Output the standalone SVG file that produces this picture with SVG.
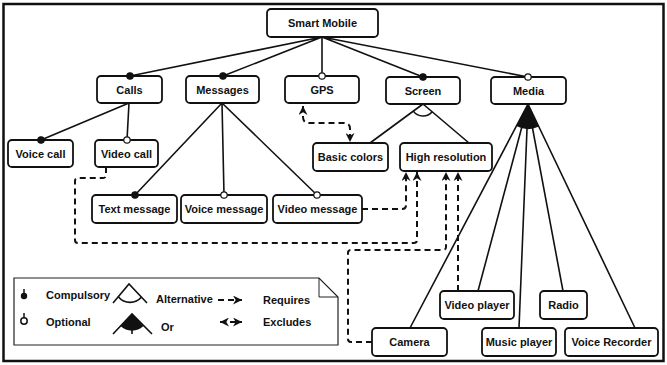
<svg xmlns="http://www.w3.org/2000/svg" width="667" height="365" viewBox="0 0 667 365">
<defs>
<style>
.box{fill:#fff;stroke:#111;stroke-width:1.8}
.t{font-family:"Liberation Sans",Arial,Helvetica,sans-serif;font-weight:bold;font-size:11px;fill:#111}
.ln{stroke:#111;stroke-width:1.6;fill:none}
.ds{stroke:#111;stroke-width:2;fill:none;stroke-dasharray:6,4}
.dot{fill:#111;stroke:#111;stroke-width:1.2}
.odot{fill:#fff;stroke:#111;stroke-width:1.2}
</style>
<marker id="arr" viewBox="0 0 10 10" refX="10" refY="5" markerWidth="9" markerHeight="9" markerUnits="userSpaceOnUse" orient="auto-start-reverse">
<path d="M0,0 L10,5 L0,10 L3,5 Z" fill="#111"/>
</marker>
</defs>
<rect x="3.5" y="4" width="660" height="357" fill="#fff" stroke="#111" stroke-width="2.5"/>

<g id="smart-mobile"><rect class="box" x="267" y="9" width="111" height="28" rx="4"/><text class="t" x="322.5" y="27" text-anchor="middle">Smart Mobile</text></g>
<g id="calls"><rect class="box" x="97" y="76" width="65" height="27" rx="4"/><text class="t" x="129.5" y="93.5" text-anchor="middle">Calls</text></g>
<g id="messages"><rect class="box" x="186" y="76" width="73" height="27" rx="4"/><text class="t" x="222.5" y="93.5" text-anchor="middle">Messages</text></g>
<g id="gps"><rect class="box" x="285" y="76" width="74" height="27" rx="4"/><text class="t" x="322" y="93.5" text-anchor="middle">GPS</text></g>
<g id="screen"><rect class="box" x="386" y="77" width="74" height="27" rx="4"/><text class="t" x="423" y="94.5" text-anchor="middle">Screen</text></g>
<g id="media"><rect class="box" x="491" y="77" width="75" height="27" rx="4"/><text class="t" x="528.5" y="94.5" text-anchor="middle">Media</text></g>
<g id="voice-call"><rect class="box" x="8" y="140" width="65" height="27" rx="4"/><text class="t" x="40.5" y="157.5" text-anchor="middle">Voice call</text></g>
<g id="video-call"><rect class="box" x="95" y="140" width="63" height="27" rx="4"/><text class="t" x="126.5" y="157.5" text-anchor="middle">Video call</text></g>
<g id="basic-colors"><rect class="box" x="313" y="143" width="75" height="28" rx="4"/><text class="t" x="350.5" y="161" text-anchor="middle">Basic colors</text></g>
<g id="high-resolution"><rect class="box" x="400" y="143" width="92" height="28" rx="4"/><text class="t" x="446" y="161" text-anchor="middle">High resolution</text></g>
<g id="text-message"><rect class="box" x="92" y="195" width="85" height="28" rx="4"/><text class="t" x="134.5" y="213" text-anchor="middle">Text message</text></g>
<g id="voice-message"><rect class="box" x="181" y="195" width="86" height="28" rx="4"/><text class="t" x="224" y="213" text-anchor="middle">Voice message</text></g>
<g id="video-message"><rect class="box" x="273" y="195" width="89" height="28" rx="4"/><text class="t" x="317.5" y="213" text-anchor="middle">Video message</text></g>
<g id="video-player"><rect class="box" x="440" y="291" width="74" height="28" rx="4"/><text class="t" x="477" y="309" text-anchor="middle">Video player</text></g>
<g id="radio"><rect class="box" x="540" y="291" width="47" height="28" rx="4"/><text class="t" x="563.5" y="309" text-anchor="middle">Radio</text></g>
<g id="camera"><rect class="box" x="372" y="328" width="75" height="28" rx="4"/><text class="t" x="409.5" y="346" text-anchor="middle">Camera</text></g>
<g id="music-player"><rect class="box" x="482" y="328" width="74" height="28" rx="4"/><text class="t" x="519" y="346" text-anchor="middle">Music player</text></g>
<g id="voice-recorder"><rect class="box" x="565" y="328" width="93" height="28" rx="4"/><text class="t" x="611.5" y="346" text-anchor="middle">Voice Recorder</text></g>

<g id="connectors">
<path class="ln" d="M322,37 L130,76 M322,37 L223,76 M322,37 L322,76 M322,37 L423,77 M322,37 L528,77"/>
<path class="ln" d="M129,103 L41,140 M129,103 L127,140"/>
<path class="ln" d="M222,103 L135,195 M222,103 L224,195 M222,103 L317,195"/>
<path class="ln" d="M423,104 L370,143 M423,104 L469,143"/>
<path class="ln" d="M413.3,111.1 A12,12 0 0 0 432.2,111.8"/>
<path d="M528,104 L516.3,126.1 A25,25 0 0 0 538.8,126.6 Z" fill="#111"/>
<path class="ln" d="M528,104 L410,328 M528,104 L478,291 M528,104 L519,328 M528,104 L563,291 M528,104 L635,328"/>
<circle class="dot" cx="130" cy="76" r="3.2"/>
<circle class="dot" cx="223" cy="76" r="3.2"/>
<circle class="odot" cx="322" cy="76" r="3.2"/>
<circle class="dot" cx="423" cy="77" r="3.2"/>
<circle class="odot" cx="528" cy="77" r="3.2"/>
<circle class="dot" cx="41" cy="140" r="3.2"/>
<circle class="odot" cx="127" cy="140" r="3.2"/>
<circle class="dot" cx="135" cy="195" r="3.2"/>
<circle class="odot" cx="224" cy="195" r="3.2"/>
<circle class="odot" cx="317" cy="195" r="3.2"/>
<path class="ds" d="M303,106 V117 Q303,123 309,123 H344 Q350,123 350,129 V142" marker-start="url(#arr)" marker-end="url(#arr)"/>
<path class="ds" d="M362,209 H402 Q406,209 406,205 V172" marker-end="url(#arr)"/>
<path class="ds" d="M106,167 V175 Q106,178 103,178 H78 Q75,178 75,181 V240 Q75,243 78,243 H414 Q417,243 417,240 V172" marker-end="url(#arr)"/>
<path class="ds" d="M372,342 H351 Q348,342 348,339 V253 Q348,250 351,250 H443 Q446,250 446,247 V172" marker-end="url(#arr)"/>
<path class="ds" d="M458,291 V172" marker-end="url(#arr)"/>
</g>

<g id="legend">
<path d="M14,278 H319 L338,297 V345 H14 Z" fill="#fff" stroke="#222" stroke-width="1.2"/>
<path d="M319,278 V297 H338" fill="none" stroke="#222" stroke-width="1"/>
<line x1="24" y1="289" x2="24" y2="293" stroke="#111" stroke-width="1.5"/>
<circle cx="24" cy="296" r="3.2" fill="#111"/>
<line x1="24" y1="313" x2="24" y2="318" stroke="#111" stroke-width="1.5"/>
<circle cx="24" cy="321" r="3.2" fill="#fff" stroke="#111" stroke-width="1.5"/>
<text class="t" x="46" y="299">Compulsory</text>
<text class="t" x="46" y="326">Optional</text>
<path class="ln" d="M113,303 L129,284 L147,303"/>
<path class="ln" d="M118.5,297 A15,15 0 0 0 141.5,297"/>
<text class="t" x="156" y="303">Alternative</text>
<path class="ln" d="M113,334 L132,314 L152,334 M132,314 V334"/>
<path d="M132,314 L120.5,326.1 A16.7,16.7 0 0 0 143.5,326.1 Z" fill="#111"/>
<text class="t" x="161" y="331">Or</text>
<path class="ds" d="M218,300 H242" stroke-dasharray="5,4" marker-end="url(#arr)"/>
<text class="t" x="263" y="304">Requires</text>
<path class="ds" d="M220,322 H242" stroke-dasharray="5,4" marker-start="url(#arr)" marker-end="url(#arr)"/>
<text class="t" x="263" y="326">Excludes</text>
</g>
</svg>
